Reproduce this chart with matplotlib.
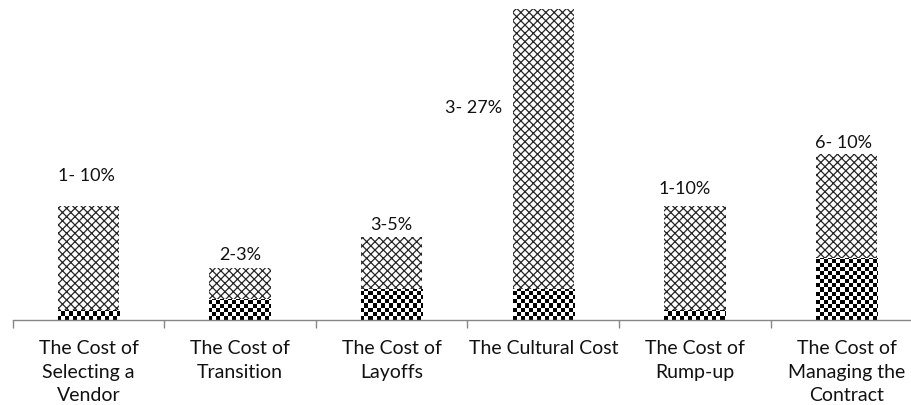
import numpy as np
import matplotlib
matplotlib.use("Agg")
import matplotlib.pyplot as plt

categories = ["The Cost of\nSelecting a\nVendor", "The Cost of\nTransition",
              "The Cost of\nLayoffs", "The Cultural Cost",
              "The Cost of\nRump-up", "The Cost of\nManaging the\nContract"]
low = [1, 2, 3, 3, 1, 6]
high = [10, 3, 5, 27, 10, 10]
range_labels = ["1- 10%", "2-3%", "3-5%", "3- 27%", "1-10%", "6- 10%"]

# hand placed label offsets in pixels (dx, dy) from each bar's top centre
label_offsets = [(-2, 31), (0, 14), (0, 13), (-70, -98), (-10, 18), (-3, 12)]

plt.rcParams['font.family'] = ['Lato', 'DejaVu Sans']
plt.rcParams['hatch.linewidth'] = 0.9

W, H, DPI = 912, 406, 100
fig = plt.figure(figsize=(W / DPI, H / DPI), dpi=DPI)
ax_left, ax_bottom = 12.7, 85
ax_w, ax_h = W - ax_left, H - ax_bottom
ax = fig.add_axes([ax_left / W, ax_bottom / H, ax_w / W, ax_h / H])

cat_px = 151.6
x = np.arange(len(categories))
xmax = -0.5 + ax_w / cat_px
ytop = 31.0
ax.set_xlim(-0.5, xmax)
ax.set_ylim(0, ytop)

width = 0.405
bottoms = ax.bar(x, low, width=width, color='none', linewidth=0)
tops = ax.bar(x, high, width=width, bottom=low, facecolor='white',
              edgecolor='#262626', linewidth=0, hatch='xxxx')

# checkerboard fill for the bottom segments, 4 px cells, clipped to each bar
cell = 4
rows = int(round(ax_h / cell))
cols = int(round(ax_w / cell))
checker = (np.add.outer(np.arange(rows), np.arange(cols)) % 2).astype(float)
for patch in bottoms.patches:
    im = ax.imshow(checker, extent=(-0.5, xmax, 0, ytop), aspect='auto',
                   interpolation='nearest', cmap='gray', vmin=0, vmax=1,
                   origin='upper', zorder=2)
    im.set_clip_path(patch)
ax.set_xlim(-0.5, xmax)
ax.set_ylim(0, ytop)

for i, txt in enumerate(range_labels):
    dx, dy = label_offsets[i]
    ax.annotate(txt, xy=(x[i], low[i] + high[i]), xytext=(dx, dy),
                textcoords='offset pixels', ha='center', va='center',
                fontsize=13, color='#111111')

for s in ['left', 'right', 'top']:
    ax.spines[s].set_visible(False)
ax.spines['bottom'].set_color('#868686')
ax.spines['bottom'].set_linewidth(1.0)
ax.set_yticks([])

ax.set_xticks(x)
ax.set_xticklabels(categories, fontsize=14, color='#111111', linespacing=1.45)
ax.tick_params(axis='x', which='major', length=0, pad=14)
ax.set_xticks(np.arange(-0.5, xmax, 1.0), minor=True)
ax.tick_params(axis='x', which='minor', length=6, color='#868686', width=1.0)

fig.savefig("out.png", dpi=DPI)
